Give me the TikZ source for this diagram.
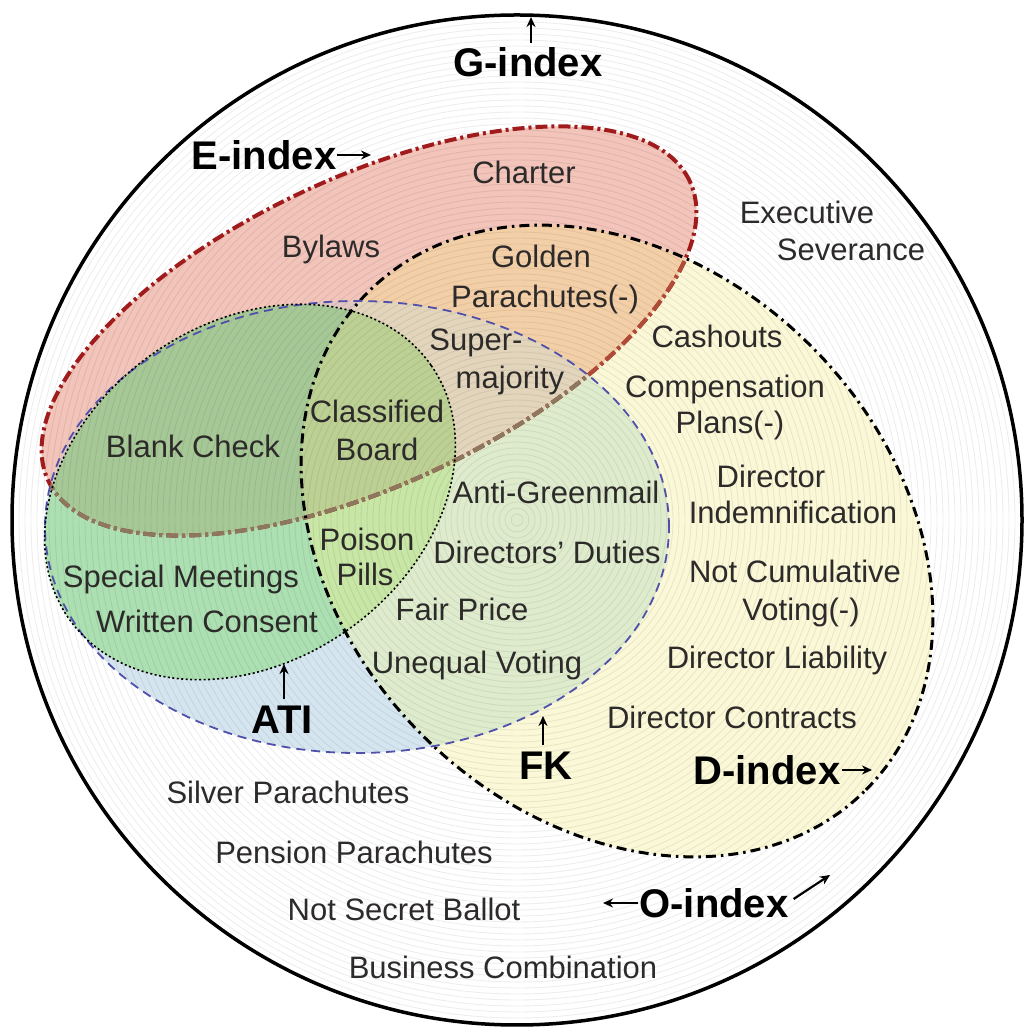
\documentclass[tikz,border=0pt]{standalone}
\usepackage{fontspec}
\setmainfont{Liberation Sans}
\usetikzlibrary{arrows.meta}

% region fills
\definecolor{cD}{RGB}{250,248,215}
\definecolor{cF}{RGB}{213,229,240}
\definecolor{cFD}{RGB}{222,236,205}
\definecolor{cA}{RGB}{172,224,178}
\definecolor{cAD}{RGB}{200,230,165}
\definecolor{cE}{RGB}{242,196,186}
\definecolor{cED}{RGB}{243,207,167}
\definecolor{cEF}{RGB}{225,200,195}
\definecolor{cEFD}{RGB}{226,213,188}
\definecolor{cEA}{RGB}{166,200,150}
\definecolor{cEAD}{RGB}{188,208,148}
% outlines and text
\definecolor{Ered}{RGB}{160,28,28}
\definecolor{EredD}{RGB}{175,75,55}
\definecolor{Ebrown}{RGB}{140,120,95}
\definecolor{Fblue}{RGB}{80,80,170}
\definecolor{txt}{RGB}{45,42,42}

% the four index sets
\newcommand\shE{(369,703) ellipse [x radius=354, y radius=154, rotate=25]}
\newcommand\shD{(617,493) ellipse [x radius=352, y radius=275, rotate=-45]}
\newcommand\shF{(357,507) ellipse [x radius=312, y radius=226]}
\newcommand\shA{(250,542) ellipse [x radius=221, y radius=169, rotate=35]}

\begin{document}
\begin{tikzpicture}[x=1pt,y=1pt,
  lbl/.style={font=\fontsize{31}{33}\selectfont, text=txt, inner sep=0pt,
              text height=22pt, text depth=0pt},
  idx/.style={font=\bfseries\fontsize{40}{44}\selectfont, text=black, inner sep=0pt,
              text height=29pt, text depth=0pt},
  ptr/.style={-{Stealth[length=10pt,width=9pt]}, line width=2.2pt},
  Eline/.style={draw=Ered, line width=4pt, dash pattern=on 12pt off 4pt on 3pt off 4pt},
  Dline/.style={draw=black, line width=3pt, dash pattern=on 10pt off 5pt on 2.5pt off 5pt},
  Fline/.style={draw=Fblue, line width=1.8pt, dash pattern=on 9pt off 6pt},
  Aline/.style={draw=black, line width=1.6pt, dash pattern=on 2pt off 2.5pt},
]
\useasboundingbox (0,0) rectangle (1031,1034);
\fill[white] (0,0) rectangle (1031,1034);

% ---- fills ----
\fill[cD] \shD;
\fill[cF] \shF;
\begin{scope}\clip \shD; \fill[cFD] \shF; \end{scope}
\fill[cA] \shA;
\begin{scope}\clip \shD; \fill[cAD] \shA; \end{scope}
\fill[cE] \shE;
\begin{scope}\clip \shE; \fill[cED] \shD; \end{scope}
\begin{scope}\clip \shE; \fill[cEF] \shF; \end{scope}
\begin{scope}\clip \shE; \clip \shD; \fill[cEFD] \shF; \end{scope}
\begin{scope}\clip \shE; \fill[cEA] \shA; \end{scope}
\begin{scope}\clip \shE; \clip \shD; \fill[cEAD] \shA; \end{scope}

% ---- concentric ring texture ----
\begin{scope}
  \clip (517,514) circle (504);
  \foreach \r in {6,12,...,504}
    \draw[black, opacity=0.07, line width=0.9pt] (517,514) circle (\r);
\end{scope}

% ---- outlines ----
\draw[Eline] \shE;
\begin{scope}\clip \shD; \draw[Eline, draw=EredD] \shE; \end{scope}
\begin{scope}\clip \shF; \draw[Eline, draw=Ebrown] \shE; \end{scope}
\draw[Dline] \shD;
\draw[Fline] \shF;
\draw[Aline] \shA;
\draw[line width=3.5pt] (517,514) circle (505);

% ---- items ----
\node[lbl] (charter) at (524,861) {Charter};
\node[lbl] (bylaws) at (331,787) {Bylaws};
\node[lbl] (golden1) at (541,777) {Golden};
\node[lbl] (golden2) at (545,737) {Parachutes(-)};
\node[lbl] (exec1) at (807,821) {Executive};
\node[lbl] (exec2) at (851,784) {Severance};
\node[lbl] (super1) at (476,694) {Super-};
\node[lbl] (super2) at (510,656) {majority};
\node[lbl] (cash) at (717,697) {Cashouts};
\node[lbl] (comp1) at (725,647) {Compensation};
\node[lbl] (comp2) at (730,611) {Plans(-)};
\node[lbl] (class1) at (377,622) {Classified};
\node[lbl] (class2) at (377,584) {Board};
\node[lbl] (blank) at (193,587) {Blank Check};
\node[lbl] (green) at (556,541) {Anti-Greenmail};
\node[lbl] (indem1) at (771,557) {Director};
\node[lbl] (indem2) at (793,521) {Indemnification};
\node[lbl] (poison1) at (367,494) {Poison};
\node[lbl] (poison2) at (365,459) {Pills};
\node[lbl] (duties) at (547,481) {Directors' Duties};
\node[lbl] (special) at (181,457) {Special Meetings};
\node[lbl] (cumul1) at (795,462) {Not Cumulative};
\node[lbl] (cumul2) at (801,424) {Voting(-)};
\node[lbl] (written) at (207,412) {Written Consent};
\node[lbl] (fair) at (462,424) {Fair Price};
\node[lbl] (liab) at (777,376) {Director Liability};
\node[lbl] (unequal) at (477,371) {Unequal Voting};
\node[lbl] (contr) at (732,316) {Director Contracts};
\node[lbl] (silver) at (288,241) {Silver Parachutes};
\node[lbl] (pension) at (354,181) {Pension Parachutes};
\node[lbl] (ballot) at (404,124) {Not Secret Ballot};
\node[lbl] (busi) at (503,66) {Business Combination};

% ---- index labels and pointers ----
\node[idx] (gidx) at (528,972) {G-index};
\coordinate (gtip) at (531,1017);
\draw[ptr] (gidx.north -| gtip) ++(0,4) -- (gtip);

\node[idx] (eidx) at (264,879) {E-index};
\coordinate (etip) at (371,879);
\draw[ptr] ([xshift=1pt]eidx.east) -- (etip);

\node[idx] (ati) at (282,315) {ATI};
\coordinate (atitip) at (284,370);
\draw[ptr] ([xshift=2pt,yshift=5pt]ati.north) -- (atitip);

\node[idx] (fk) at (546,269) {FK};
\coordinate (fktip) at (543,318);
\draw[ptr] ([xshift=-3pt,yshift=5pt]fk.north) -- (fktip);

\node[idx] (didx) at (767,264) {D-index};
\coordinate (dtip) at (872,264);
\draw[ptr] ([xshift=1pt]didx.east) -- (dtip);

\node[idx] (oidx) at (714,131) {O-index};
\coordinate (oltip) at (603,131);
\coordinate (ortip) at (830,159);
\draw[ptr] ([xshift=-1pt]oidx.west) -- (oltip);
\draw[ptr] ([xshift=5pt,yshift=4pt]oidx.east) -- (ortip);
\end{tikzpicture}
\end{document}
